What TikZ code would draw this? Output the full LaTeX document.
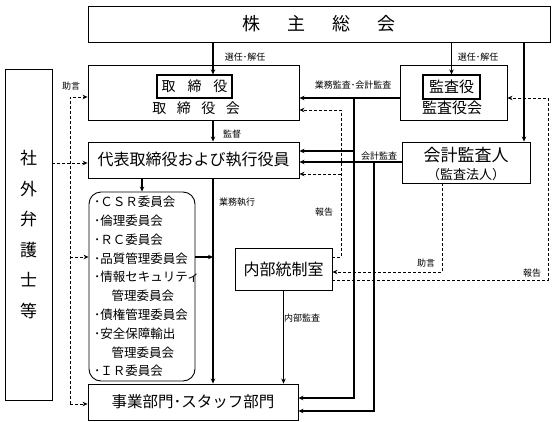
\documentclass[tikz,border=0pt]{standalone}
\usepackage{fontspec}
\setmainfont{Noto Sans CJK JP}
\usetikzlibrary{arrows.meta,positioning}

\begin{document}
\begin{tikzpicture}[
	x = 1pt, y = -1pt, % pixel grid, y runs downwards
	> = {Stealth[length=5pt,width=4.5pt]}, % arrow head style
	B/.style={draw, line width=0.9pt, inner sep=0pt},  % plain box
	I/.style={draw, line width=1.2pt, inner sep=0pt},  % inner box
	L/.style={inner sep=0pt, font=\fontsize{9}{10}\selectfont}, % small label
	F/.style={->, line width=1.4pt},                    % solid connector
	A/.style={->, line width=0.8pt, dash pattern=on 3pt off 2pt}, % dashed connector
	]
	\useasboundingbox (0,0) rectangle (557,421);

	% Boxes
	% Nodes and their positions
	\node[B, minimum width=462pt, minimum height=36pt, font=\fontsize{18}{20}\selectfont] (GM) at (319,24) {株\hspace{1.5em}主\hspace{1.5em}総\hspace{1.5em}会};
	\node[B, minimum width=211pt, minimum height=55pt] (BD) at (193.5,92.5) {};
	\node[I, minimum width=75pt, minimum height=23pt, font=\fontsize{14}{16}\selectfont] (DR) at (194.5,86.5) {取\hspace{0.85em}締\hspace{0.85em}役};
	\node[inner sep=0pt, font=\fontsize{14}{16}\selectfont] (BDt) at (196,108) {取\hspace{0.75em}締\hspace{0.75em}役\hspace{0.75em}会};
	\node[B, minimum width=107pt, minimum height=55pt] (AB) at (453.5,92.5) {};
	\node[I, minimum width=57pt, minimum height=24pt, font=\fontsize{15}{17}\selectfont] (AU) at (451.5,87) {監査役};
	\node[inner sep=0pt, font=\fontsize{15}{17}\selectfont] (ABt) at (452,108) {監査役会};
	\node[B, minimum width=128pt, minimum height=41pt] (CA) at (466,162.5) {};
	\node[inner sep=0pt, font=\fontsize{17}{19}\selectfont] (CAt) at (466,155) {会計監査人};
	\node[inner sep=0pt, font=\fontsize{13}{15}\selectfont] (CAs) [below = 5pt of CAt] {（監査法人）};
	\node[B, minimum width=211pt, minimum height=36pt, font=\fontsize{16}{18}\selectfont] (RE) at (193.5,160) {代表取締役および執行役員};
	\node[B, rounded corners=12pt, minimum width=106pt, minimum height=189pt] (CM) at (142,286.5) {};
	\node[inner sep=0pt, anchor=north west, align=left, font=\fontsize{12.5}{18.8}\selectfont] (CMt) at (94,196) {%
		･ＣＳＲ委員会\\･倫理委員会\\･ＲＣ委員会\\･品質管理委員会\\･情報セキュリティ\\
		\hspace{1.4em}管理委員会\\･債権管理委員会\\･安全保障輸出\\\hspace{1.4em}管理委員会\\･ＩＲ委員会};
	\node[B, minimum width=210pt, minimum height=36pt, font=\fontsize{15.5}{18}\selectfont] (DP) at (193,402) {事業部門･スタッフ部門};
	\node[B, minimum width=97pt, minimum height=42pt, font=\fontsize{16}{18}\selectfont] (IC) at (283.5,269) {内部統制室};
	\node[B, minimum width=47pt, minimum height=331pt, align=center, font=\fontsize{17}{30.6}\selectfont] (LW) at (28.5,234.5) {社\\外\\弁\\護\\士\\等};

	% Bends of the connectors
	\coordinate (xm) at (213,0);
	\coordinate (xa) at (524,0);
	\coordinate (xk) at (354,0);
	\coordinate (xc) at (374,0);
	\coordinate (xr) at (341,0);
	\coordinate (xj) at (442,0);
	\coordinate (xe) at (548,0);
	\coordinate (xl) at (70,0);
	\coordinate (yk) at (0,98);
	\coordinate (yk2) at (0,151);
	\coordinate (yc) at (0,162);
	\coordinate (yd1) at (0,398);
	\coordinate (yd2) at (0,411);
	\coordinate (ym) at (0,257);
	\coordinate (yr1) at (0,110);
	\coordinate (yr2) at (0,174);
	\coordinate (yj) at (0,272);
	\coordinate (ye) at (0,280);
	\coordinate (yl) at (0,163);
	\coordinate (yl1) at (0,97);
	\coordinate (yl3) at (0,404);

	% Solid paths
	\path[F] (GM.south -| xm) edge (DR.north -| xm);
	\path[F] (GM.south -| AU.north) edge (AU.north);
	\path[F] (GM.south -| xa) edge (CA.north -| xa);
	\path[F] (BD.south -| xm) edge (RE.north -| xm);
	\path[F] (AB.west |- yk) edge (BD.east |- yk);
	\draw[F] (xk |- yk) -- (xk |- yd1) -- (DP.east |- yd1);
	\path[F] (xk |- yk2) edge (RE.east |- yk2);
	\path[F] (CA.west |- yc) edge (RE.east |- yc);
	\draw[F] (xc |- yc) -- (xc |- yd2) -- (DP.east |- yd2);
	\path[F] (RE.south -| CM.north) edge (CM.north);
	\path[F] (RE.south -| xm) edge (DP.north -| xm);
	\path[F] (CM.east |- ym) edge (xm |- ym);
	\path[F] (IC.south) edge (DP.north -| IC.south);

	% Dashed paths
	\draw[A] (IC.east |- ym) -- (xr |- ym) -- (xr |- yr1) -- (BD.east |- yr1);
	\path[A] (xr |- yr2) edge (RE.east |- yr2);
	\draw[A] (CA.south -| xj) -- (xj |- yj) -- (IC.east |- yj);
	\draw[A] (IC.east |- ye) -- (xe |- ye) -- (xe |- yk) -- (AB.east |- yk);
	\path[A] (LW.east |- yl) edge (RE.west |- yl);
	\draw[A] (xl |- yl3) -- (xl |- yl1) -- (BD.west |- yl1);
	\path[A] (xl |- ym) edge (CM.west |- ym);
	\path[A] (xl |- yl3) edge (DP.west |- yl3);

	% Labels
	\node[L] at (245,57) {選任･解任};
	\node[L] at (478,57) {選任･解任};
	\node[L] at (71,86) {助言};
	\node[L] at (353,85) {業務監査･会計監査};
	\node[L] at (232,134) {監督};
	\node[L] at (379,156) {会計監査};
	\node[L] at (237,202) {業務執行};
	\node[L] at (324,212) {報告};
	\node[L] at (426,263) {助言};
	\node[L] at (532,273) {報告};
	\node[L] at (302,318) {内部監査};

\end{tikzpicture}
\end{document}
